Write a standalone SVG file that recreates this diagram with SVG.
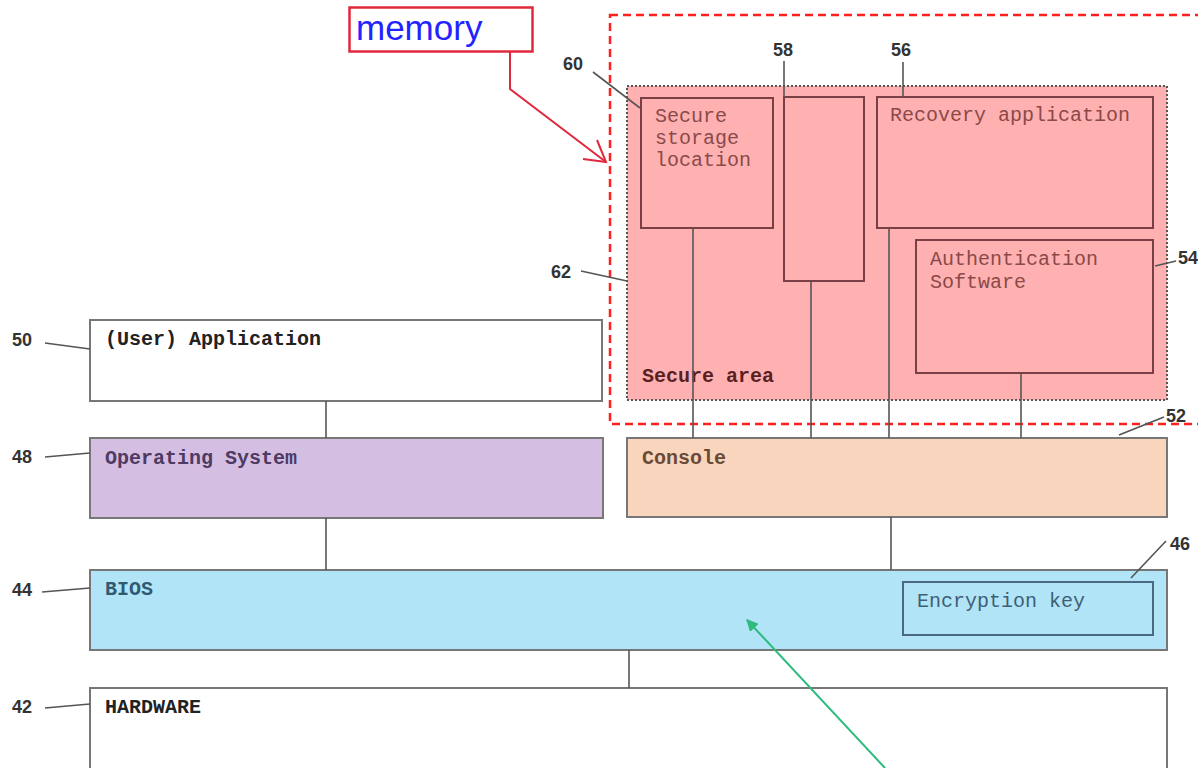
<svg xmlns="http://www.w3.org/2000/svg" width="1198" height="768" viewBox="0 0 1198 768">
  <style>
    .layer { stroke: #777; stroke-width: 2; }
    .inner { fill: none; stroke: #7a3f44; stroke-width: 2; }
    .mono { font-family: "Liberation Mono", "Courier New", monospace; font-size: 20px; }
    .bold { font-weight: bold; }
    .num { font-family: "Liberation Sans", Arial, sans-serif; font-size: 18px; font-weight: bold; fill: #333; }
    .lead { stroke: #555; stroke-width: 1.6; fill: none; }
    .wire { stroke: #555; stroke-width: 1.6; fill: none; }
  </style>
  <defs>
    <marker id="greenHead" viewBox="0 0 10 10" refX="9" refY="5" markerWidth="6" markerHeight="6" orient="auto">
      <path d="M0,0 L10,5 L0,10 z" fill="#2dbb7e"/>
    </marker>
  </defs>
  <rect width="1198" height="768" fill="#fff"/>

  <!-- memory region outline and callout -->
  <g id="memory-region">
    <rect x="610" y="15" width="600" height="409" fill="none" stroke="#ff1f1f" stroke-width="2.5" stroke-dasharray="8 5"/>
  </g>
  <g id="memory-label">
    <rect x="349.5" y="7.5" width="183" height="44" fill="#fff" stroke="#e0283c" stroke-width="2.5"/>
    <text x="356" y="40" font-family="Liberation Sans, Arial, sans-serif" font-size="35" fill="#2323ff">memory</text>
    <polyline points="510,52 510,89 606,162" fill="none" stroke="#e0283c" stroke-width="2"/>
    <polyline points="597,140 606,162 583,159" fill="none" stroke="#e0283c" stroke-width="2"/>
  </g>

  <!-- secure area -->
  <g id="secure-area">
    <rect x="627" y="86" width="540" height="314" fill="#ffb0b0" stroke="#555" stroke-width="2" stroke-dasharray="2 2"/>
    <text x="642" y="382" class="mono bold" fill="#5a1f22">Secure area</text>
  </g>
  <g id="secure-storage">
    <rect x="641" y="98" width="132" height="130" class="inner"/>
    <text class="mono" fill="#8a4a4a"><tspan x="655" y="122">Secure</tspan><tspan x="655" y="144">storage</tspan><tspan x="655" y="166">location</tspan></text>
  </g>
  <g id="block-58">
    <rect x="784" y="97" width="80" height="184" class="inner"/>
  </g>
  <g id="recovery-app">
    <rect x="877" y="97" width="276" height="131" class="inner"/>
    <text x="890" y="121" class="mono" fill="#8a4a4a">Recovery application</text>
  </g>
  <g id="auth-software">
    <rect x="916" y="240" width="237" height="133" class="inner"/>
    <text class="mono" fill="#8a4a4a"><tspan x="930" y="265">Authentication</tspan><tspan x="930" y="288">Software</tspan></text>
  </g>

  <!-- software / firmware layers -->
  <g id="user-application">
    <rect x="90" y="320" width="512" height="81" fill="#fff" class="layer"/>
    <text x="105" y="345" class="mono bold" fill="#222">(User) Application</text>
  </g>
  <g id="operating-system">
    <rect x="90" y="438" width="513" height="80" fill="#d4bfe2" class="layer"/>
    <text x="105" y="464" class="mono bold" fill="#4e3a62">Operating System</text>
  </g>
  <g id="console">
    <rect x="627" y="438" width="540" height="79" fill="#f9d5bd" class="layer"/>
    <text x="642" y="464" class="mono bold" fill="#6a4a36">Console</text>
  </g>
  <g id="bios">
    <rect x="90" y="570" width="1077" height="80" fill="#b1e4f6" class="layer"/>
    <text x="105" y="595" class="mono bold" fill="#2f5a72">BIOS</text>
  </g>
  <g id="encryption-key">
    <rect x="903" y="582" width="250" height="53" fill="none" stroke="#4a6a80" stroke-width="2"/>
    <text x="917" y="607" class="mono" fill="#3e5f76">Encryption key</text>
  </g>
  <g id="hardware">
    <path d="M1167,768 L1167,688 L90,688 L90,768" fill="#fff" class="layer"/>
    <text x="105" y="713" class="mono bold" fill="#222">HARDWARE</text>
  </g>

  <!-- connectors between blocks -->
  <g id="connectors">
    <line x1="326" y1="401" x2="326" y2="438" class="wire"/>
    <line x1="326" y1="518" x2="326" y2="570" class="wire"/>
    <line x1="891" y1="517" x2="891" y2="570" class="wire"/>
    <line x1="629" y1="650" x2="629" y2="688" class="wire"/>
    <line x1="693" y1="228" x2="693" y2="438" class="wire"/>
    <line x1="811" y1="281" x2="811" y2="438" class="wire"/>
    <line x1="889" y1="228" x2="889" y2="438" class="wire"/>
    <line x1="1021" y1="373" x2="1021" y2="438" class="wire"/>
    <line x1="885" y1="768" x2="747" y2="620" stroke="#2dbb7e" stroke-width="2" marker-end="url(#greenHead)"/>
  </g>

  <!-- reference numerals -->
  <g id="ref-numerals">
    <text x="563" y="70" class="num">60</text>
    <line x1="593" y1="72" x2="640" y2="108" class="lead"/>
    <text x="773" y="56" class="num">58</text>
    <line x1="784" y1="61" x2="784" y2="97" class="lead"/>
    <text x="891" y="56" class="num">56</text>
    <line x1="903" y1="62" x2="903" y2="97" class="lead"/>
    <text x="551" y="278" class="num">62</text>
    <line x1="581" y1="271" x2="627" y2="281" class="lead"/>
    <text x="1178" y="264" class="num">54</text>
    <line x1="1176" y1="261" x2="1155" y2="266" class="lead"/>
    <text x="1166" y="422" class="num">52</text>
    <line x1="1164" y1="417" x2="1119" y2="435" class="lead"/>
    <text x="1170" y="550" class="num">46</text>
    <line x1="1166" y1="541" x2="1131" y2="578" class="lead"/>
    <text x="12" y="346" class="num">50</text>
    <line x1="45" y1="343" x2="90" y2="349" class="lead"/>
    <text x="12" y="463" class="num">48</text>
    <line x1="45" y1="457" x2="90" y2="453" class="lead"/>
    <text x="12" y="596" class="num">44</text>
    <line x1="42" y1="592" x2="90" y2="588" class="lead"/>
    <text x="12" y="713" class="num">42</text>
    <line x1="45" y1="708" x2="90" y2="704" class="lead"/>
  </g>
</svg>
